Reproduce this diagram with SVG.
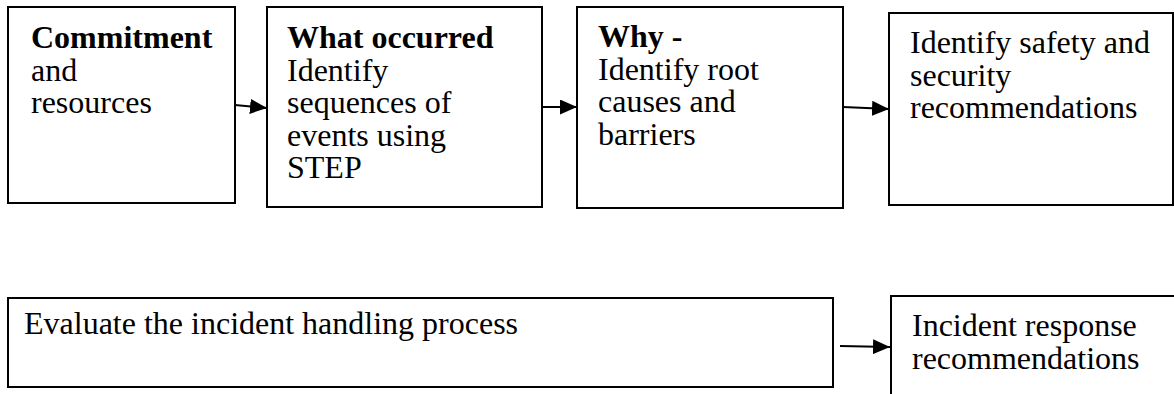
<svg xmlns="http://www.w3.org/2000/svg" width="1174" height="394" viewBox="0 0 1174 394">
  <style>
    .box { fill: #ffffff; stroke: #000000; stroke-width: 2; }
    .label { font-size: 32px; fill: #000000; }
    .title { font-weight: bold; }
    .link { fill: none; stroke: #000000; stroke-width: 2; }
  </style>
  <defs>
    <marker id="arrowhead" markerUnits="userSpaceOnUse" markerWidth="17" markerHeight="15" refX="17" refY="7.5" orient="auto">
      <path d="M0,0 L17,7.5 L0,15 Z" fill="#000000"/>
    </marker>
  </defs>

  <rect width="1174" height="394" fill="#ffffff"/>

  <g font-family="Liberation Serif, Times New Roman, serif">
    <g id="node-commitment">
      <rect class="box" x="8" y="7" width="227" height="196"/>
      <text class="label" x="31" y="48"><tspan class="title">Commitment</tspan><tspan x="31" dy="32.5">and</tspan><tspan x="31" dy="32.5">resources</tspan></text>
    </g>

    <g id="node-what-occurred">
      <rect class="box" x="267" y="7" width="275" height="200"/>
      <text class="label" x="287" y="48"><tspan class="title">What occurred</tspan><tspan x="287" dy="32.5">Identify</tspan><tspan x="287" dy="32.5">sequences of</tspan><tspan x="287" dy="32.5">events using</tspan><tspan x="287" dy="32.5">STEP</tspan></text>
    </g>

    <g id="node-why">
      <rect class="box" x="577" y="7" width="266" height="201"/>
      <text class="label" x="598" y="47"><tspan class="title">Why -</tspan><tspan x="598" dy="32.5">Identify root</tspan><tspan x="598" dy="32.5">causes and</tspan><tspan x="598" dy="32.5">barriers</tspan></text>
    </g>

    <g id="node-safety-recommendations">
      <rect class="box" x="889" y="13" width="284" height="192"/>
      <text class="label" x="910" y="53"><tspan>Identify safety and</tspan><tspan x="910" dy="32.5">security</tspan><tspan x="910" dy="32.5">recommendations</tspan></text>
    </g>

    <g id="node-evaluate">
      <rect class="box" x="8" y="298" width="825" height="89"/>
      <text class="label" x="24" y="334">Evaluate the incident handling process</text>
    </g>

    <g id="node-incident-recommendations">
      <rect class="box" x="891" y="296" width="300" height="120"/>
      <text class="label" x="912" y="336"><tspan>Incident response</tspan><tspan x="912" dy="33">recommendations</tspan></text>
    </g>
  </g>

  <g id="connectors">
    <line class="link" x1="235" y1="105" x2="267" y2="108" marker-end="url(#arrowhead)"/>
    <line class="link" x1="542" y1="107" x2="577" y2="107" marker-end="url(#arrowhead)"/>
    <line class="link" x1="843" y1="107" x2="889" y2="109" marker-end="url(#arrowhead)"/>
    <line class="link" x1="840" y1="346" x2="890" y2="347" marker-end="url(#arrowhead)"/>
  </g>
</svg>
